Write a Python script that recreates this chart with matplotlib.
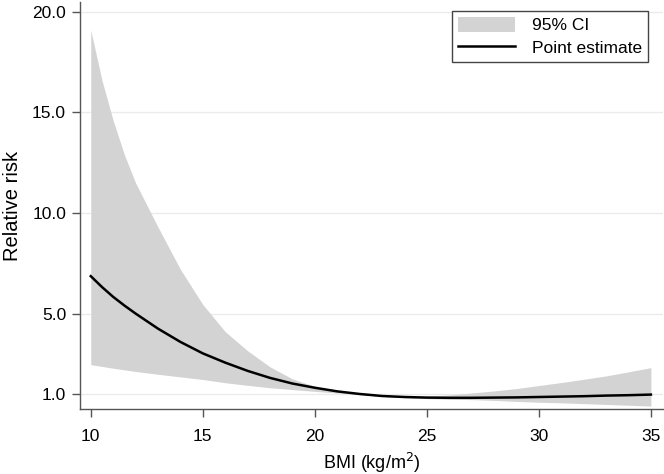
import matplotlib
matplotlib.use("Agg")
import matplotlib.pyplot as plt
from matplotlib.patches import Patch
from matplotlib.lines import Line2D

plt.rcParams['font.family'] = ['Liberation Sans', 'DejaVu Sans']

bmi = [10, 10.5, 11, 11.5, 12, 13, 14, 15, 16, 17, 18, 19, 20, 21, 22, 23, 24, 25,
       26, 27, 28, 29, 30, 31, 32, 33, 34, 35]
point_estimate = [6.86, 6.32, 5.83, 5.4, 5.0, 4.25, 3.59, 3.02, 2.56, 2.15, 1.8, 1.52,
                  1.31, 1.13, 1.0, 0.9, 0.85, 0.82, 0.81, 0.81, 0.82, 0.83, 0.85,
                  0.87, 0.89, 0.92, 0.94, 0.97]
ci_upper = [19.1, 16.6, 14.6, 12.9, 11.5, 9.3, 7.2, 5.45, 4.1, 3.15, 2.35, 1.75,
            1.38, 1.15, 1.02, 0.93, 0.9, 0.9, 0.95, 1.05, 1.15, 1.27, 1.42, 1.57,
            1.73, 1.9, 2.1, 2.31]
ci_lower = [2.46, 2.37, 2.28, 2.2, 2.12, 1.98, 1.85, 1.72, 1.56, 1.43, 1.31, 1.22,
            1.13, 1.05, 0.97, 0.88, 0.82, 0.77, 0.74, 0.72, 0.68, 0.63, 0.59, 0.56,
            0.52, 0.48, 0.44, 0.40]
y_ticks = [1.0, 5.0, 10.0, 15.0, 20.0]
x_ticks = [10, 15, 20, 25, 30, 35]

fig = plt.figure(figsize=(6.64, 4.74), dpi=100)
ax = fig.add_axes([0.1205, 0.137, 0.878, 0.859])

spine_col = '#555555'
ax.set_xlim(9.52, 35.54)
ax.set_ylim(0.25, 20.5)
for y in y_ticks:
    ax.axhline(y, color='#ebebeb', lw=1.0, zorder=0)

ax.fill_between(bmi, ci_lower, ci_upper, color='#d3d3d3', lw=0, zorder=1)
ax.plot(bmi, point_estimate, color='black', lw=1.8, zorder=2)

ax.set_yticks(y_ticks)
ax.set_yticklabels([f"{v:.1f}" for v in y_ticks])
ax.set_xticks(x_ticks)
for s in ['top', 'right']:
    ax.spines[s].set_visible(False)
for s in ['left', 'bottom']:
    ax.spines[s].set_color(spine_col)
    ax.spines[s].set_linewidth(1.0)
ax.tick_params(axis='both', colors=spine_col, length=6, width=1.0,
               labelsize=12.5, labelcolor='black', pad=4)
ax.tick_params(axis='x', pad=8)

ax.set_xlabel('BMI (kg/m$^2$)', fontsize=13, labelpad=5)
ax.set_ylabel('Relative risk', fontsize=14.5, labelpad=7)

handles = [Patch(facecolor='#d3d3d3', edgecolor='none'),
           Line2D([0], [0], color='black', lw=1.8)]
leg = ax.legend(handles, ['95% CI', 'Point estimate'], loc='upper right',
                bbox_to_anchor=(0.99, 1.0), fontsize=12.5, frameon=True,
                fancybox=False, edgecolor='#444444', framealpha=1,
                handlelength=3.3, handleheight=1.0, borderpad=0.35,
                labelspacing=0.35, handletextpad=1.0)
leg.get_frame().set_linewidth(1.0)

fig.savefig('out.png', dpi=100)
